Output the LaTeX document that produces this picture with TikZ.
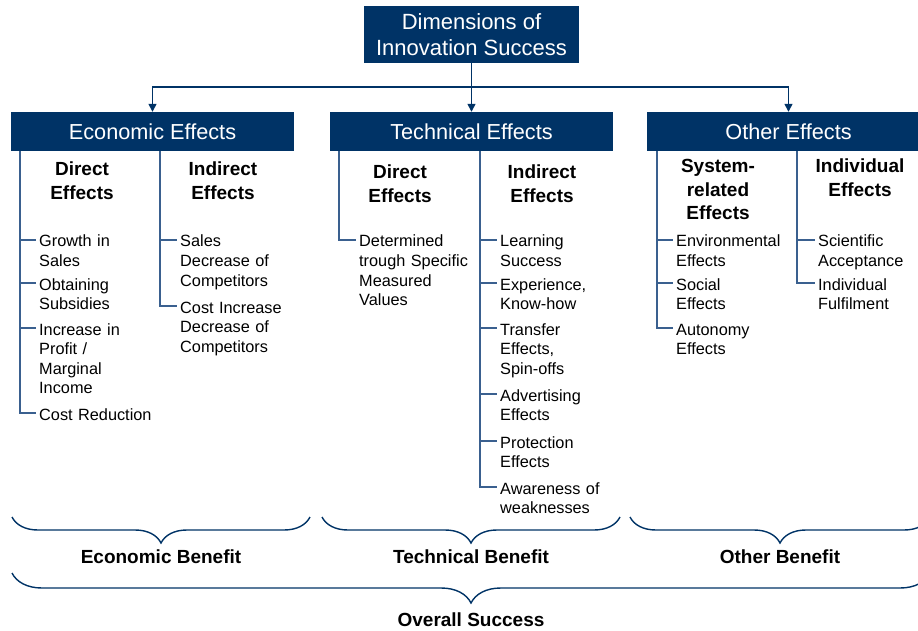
\documentclass[tikz,border=0pt]{standalone}
\usepackage{fontspec}
\setmainfont{Liberation Sans}
\usetikzlibrary{arrows.meta, positioning, calc, decorations.pathreplacing}
\definecolor{navy}{RGB}{0,51,102}
\definecolor{railblue}{RGB}{58,96,143}

\tikzset{
  headbox/.style={fill=navy, text=white, minimum width=283pt, minimum height=39pt, inner sep=0pt,
    font=\fontsize{21.7}{26}\selectfont},
  subhead/.style={font=\fontsize{19}{23.2}\selectfont\bfseries, align=center, text width=115pt,
    inner sep=0pt, anchor=base},
  entry/.style={font=\fontsize{16.3}{19.6}\selectfont, align=left, text width=125pt,
    inner sep=0pt, anchor=base west},
  rail/.style={railblue, line width=1.8pt},
  link/.style={navy, line width=1.4pt},
  curly/.style={decorate, decoration={brace, mirror, amplitude=#1}, navy, line width=1.4pt},
  benefit/.style={font=\fontsize{19}{22}\selectfont\bfseries, anchor=base, inner sep=0pt},
}

\begin{document}
\begin{tikzpicture}[x=1pt, y=-1pt, >={Triangle[length=8pt,width=8pt]}]
  \clip (0,0) rectangle (918,631);

  % boxes
  \node[headbox, minimum width=215pt, minimum height=57pt, align=center,
    font=\fontsize{22}{26.5}\selectfont] (top) at (471.5,34.5) {Dimensions of\\Innovation Success};
  \node[headbox] (econ) at (152.5,131.5) {Economic Effects};
  \node[headbox] (tech) at (471.5,131.5) {Technical Effects};
  \node[headbox] (other) at (788.5,131.5) {Other Effects};

  \coordinate (hub) at (471.5,87);
  \draw[link,->] (top) -- (tech);
  \draw[link,->] (hub) -| (econ);
  \draw[link,->] (hub) -| (other);

  % sub headings
  \node[subhead] (eDh) at (82,176) {Direct\\Effects};
  \node[subhead] (eIh) at (223,176) {Indirect\\Effects};
  \node[subhead] (tDh) at (400,179) {Direct\\Effects};
  \node[subhead] (tIh) at (542,179) {Indirect\\Effects};
  \node[subhead] (oSh) at (718,173) {System-\\related\\Effects};
  \node[subhead] (oIh) at (860,173) {Individual\\Effects};

  % rails
  \coordinate (eDrail) at (20,151);
  \coordinate (eIrail) at (160,151);
  \coordinate (tDrail) at (339,151);
  \coordinate (tIrail) at (480,151);
  \coordinate (oSrail) at (657,151);
  \coordinate (oIrail) at (797,151);

  \foreach \name/\ty/\txt in {eA/240/{Growth in\\Sales}, eB/283/{Obtaining\\Subsidies},
      eC/328/{Increase in\\Profit /\\Marginal\\Income}, eD/413/{Cost Reduction}} {
    \node[entry] (\name) at (39,\ty+7) {\txt};
    \coordinate (t\name) at ([shift={(-3pt,7pt)}]\name.base west);
    \draw[rail] (t\name -| eDrail) -- (t\name);
  }
  \draw[rail] (eDrail) |- (teD);

  \foreach \name/\ty/\txt in {fA/240/{Sales\\Decrease of\\Competitors},
      fB/306/{Cost Increase\\Decrease of\\Competitors}} {
    \node[entry] (\name) at (180,\ty+7) {\txt};
    \coordinate (t\name) at ([shift={(-3pt,7pt)}]\name.base west);
    \draw[rail] (t\name -| eIrail) -- (t\name);
  }
  \draw[rail] (eIrail) |- (tfB);

  \node[entry] (gA) at (359,247) {Determined\\trough Specific\\Measured\\Values};
  \coordinate (tgA) at ([shift={(-3pt,7pt)}]gA.base west);
  \draw[rail] (tDrail) |- (tgA);

  \foreach \name/\ty/\txt in {hA/240/{Learning\\Success}, hB/283/{Experience,\\Know-how},
      hC/328/{Transfer\\Effects,\\Spin-offs}, hD/394/{Advertising\\Effects},
      hE/441/{Protection\\Effects}, hF/487/{Awareness of\\weaknesses}} {
    \node[entry] (\name) at (500,\ty+7) {\txt};
    \coordinate (t\name) at ([shift={(-3pt,7pt)}]\name.base west);
    \draw[rail] (t\name -| tIrail) -- (t\name);
  }
  \draw[rail] (tIrail) |- (thF);

  \foreach \name/\ty/\txt in {kA/240/{Environmental\\Effects}, kB/283/{Social\\Effects},
      kC/328/{Autonomy\\Effects}} {
    \node[entry] (\name) at (676,\ty+7) {\txt};
    \coordinate (t\name) at ([shift={(-3pt,7pt)}]\name.base west);
    \draw[rail] (t\name -| oSrail) -- (t\name);
  }
  \draw[rail] (oSrail) |- (tkC);

  \foreach \name/\ty/\txt in {mA/240/{Scientific\\Acceptance}, mB/283/{Individual\\Fulfilment}} {
    \node[entry] (\name) at (818,\ty+7) {\txt};
    \coordinate (t\name) at ([shift={(-3pt,7pt)}]\name.base west);
    \draw[rail] (t\name -| oIrail) -- (t\name);
  }
  \draw[rail] (oIrail) |- (tmB);

  % braces
  \draw[curly=26pt] (12,517) -- (310,517);
  \draw[curly=26pt] (322,517) -- (620,517);
  \draw[curly=26pt] (630,517) -- (930,517);
  \draw[curly=30pt] (12,573) -- (930,573);

  \node[benefit] (econBen) at (161,563) {Economic Benefit};
  \node[benefit] (techBen) at (471,563) {Technical Benefit};
  \node[benefit] (otherBen) at (780,563) {Other Benefit};
  \node[benefit] (overall) at (471,626) {Overall Success};
\end{tikzpicture}
\end{document}
